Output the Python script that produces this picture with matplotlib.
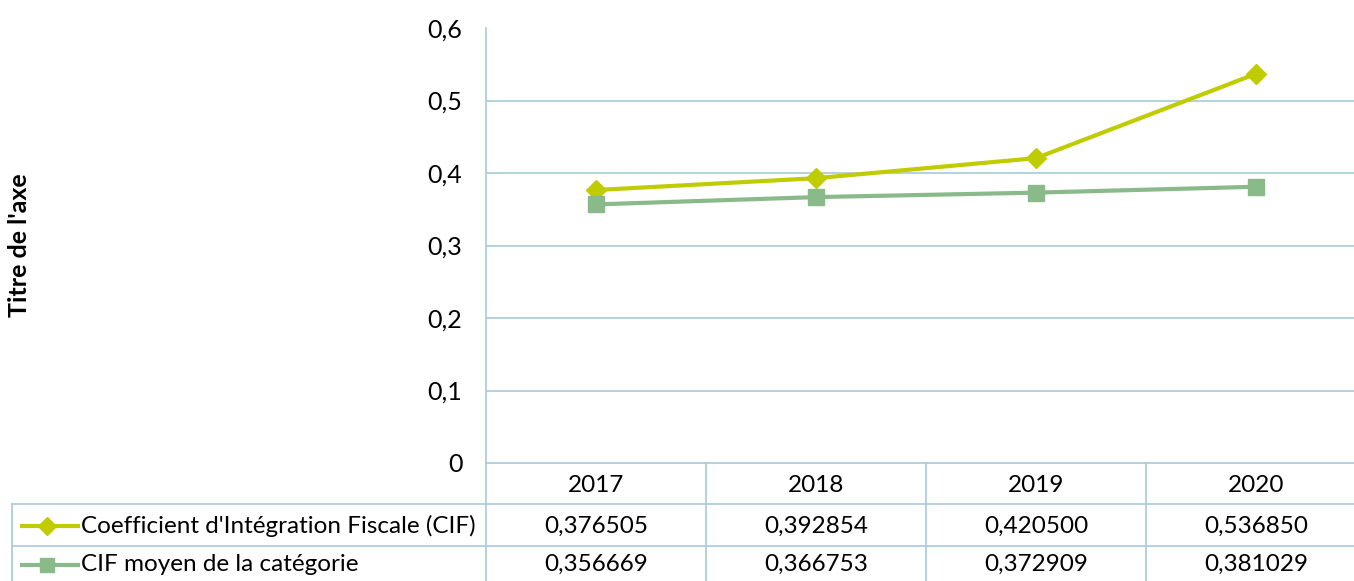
import matplotlib
matplotlib.use("Agg")
import matplotlib.pyplot as plt
import matplotlib.transforms as mtransforms
from matplotlib.lines import Line2D

plt.rcParams['font.family'] = ['Lato', 'DejaVu Sans']

years = ["2017", "2018", "2019", "2020"]
cif = [0.376505, 0.392854, 0.420500, 0.536850]
cif_moyen = [0.356669, 0.366753, 0.372909, 0.381029]
series_names = ["Coefficient d'Intégration Fiscale (CIF)", "CIF moyen de la catégorie"]
yticks = [0, 0.1, 0.2, 0.3, 0.4, 0.5, 0.6]
axis_title = "Titre de l'axe"

W, H = 1354, 581
c1 = '#BFCC00'
c2 = '#8AB98A'
gridc = '#A8C9DA'
fs = 17.5

def fx(px):
    return px / W

def fy(py):
    return 1 - py / H

fig = plt.figure(figsize=(W / 100, H / 100), dpi=100)
ax = fig.add_axes([fx(486), fy(463), (1366 - 486) / W, (463 - 28) / H])

x = list(range(len(years)))
ax.plot(x, cif, color=c1, lw=3, marker='D', ms=10, mec=c1, mfc=c1, zorder=3)
ax.plot(x, cif_moyen, color=c2, lw=3, marker='s', ms=11.5, mec=c2, mfc=c2, zorder=3)

ax.set_xlim(-0.5, len(years) - 0.5)
ax.set_ylim(0, 0.6)
ax.set_yticks(yticks)
ax.set_yticklabels([("%g" % v).replace('.', ',') for v in yticks], fontsize=18)
ax.tick_params(axis='y', length=0, pad=17)
ax.set_xticks([])
for v in yticks[1:-1]:
    ax.axhline(v, color=gridc, lw=1.2, zorder=1)
for s in ['top', 'right', 'bottom']:
    ax.spines[s].set_visible(False)
ax.spines['left'].set_color(gridc)
ax.spines['left'].set_linewidth(1.2)

fig.text(fx(20), fy(245), axis_title, rotation=90, ha='center', va='center',
         fontsize=18, fontweight='bold')

# Data table
bt = mtransforms.blended_transform_factory(ax.transData, fig.transFigure)
rows_y = [463, 504, 546, 581]
lkw = dict(color=gridc, lw=1.2, transform=fig.transFigure, clip_on=False)
fig.add_artist(Line2D([fx(486), fx(1366)], [fy(463), fy(463)], **lkw))
for ry in [504, 546]:
    fig.add_artist(Line2D([fx(12), fx(1366)], [fy(ry), fy(ry)], **lkw))
fig.add_artist(Line2D([fx(12), fx(12)], [fy(504), fy(581)], **lkw))
fig.add_artist(Line2D([fx(486), fx(486)], [fy(463), fy(581)], **lkw))
for i in range(1, len(years)):
    line = Line2D([i - 0.5, i - 0.5], [fy(463), fy(581)], color=gridc, lw=1.2,
                  transform=bt, clip_on=False)
    fig.add_artist(line)

for i, yr in enumerate(years):
    fig.text(i, fy(485), yr, transform=bt, ha='center', va='center', fontsize=fs)
for row, (vals, c, m, ms) in enumerate([(cif, c1, 'D', 9), (cif_moyen, c2, 's', 10)]):
    cy = fy((rows_y[row + 1] + rows_y[row + 2]) / 2 + 1)
    for i, v in enumerate(vals):
        fig.text(i, cy, ("%.6f" % v).replace('.', ','), transform=bt,
                 ha='center', va='center', fontsize=fs)
    fig.add_artist(Line2D([fx(22), fx(78)], [cy, cy], color=c, lw=3,
                          transform=fig.transFigure))
    fig.add_artist(Line2D([fx(47)], [cy], color=c, marker=m, ms=ms, mec=c, mfc=c,
                          transform=fig.transFigure))
    fig.text(fx(81), cy, series_names[row], ha='left', va='center', fontsize=fs)

fig.savefig('out.png', dpi=100)
